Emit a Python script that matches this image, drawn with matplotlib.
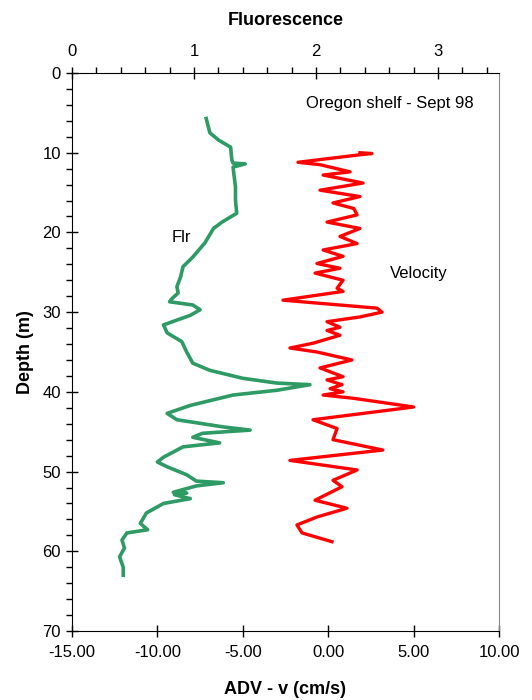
import matplotlib
matplotlib.use("Agg")
import matplotlib.pyplot as plt
from matplotlib.ticker import MultipleLocator

plt.rcParams['font.family'] = ['Liberation Sans', 'DejaVu Sans']

# Fluorescence profile (top axis)
flr_depth = [5.7, 7.5, 8.4, 9.3, 10.9, 11.3, 11.4, 11.8, 14.3, 15.9, 17.6, 18.7, 19.5,
             21.3, 23.1, 24.3, 25.6, 26.8, 27.6, 28.3, 28.7, 29.1, 29.7, 30.4, 31.6,
             32.6, 33.7, 35.0, 36.4, 37.3, 38.3, 38.9, 39.1, 39.8, 40.4, 41.7, 42.7,
             43.5, 44.4, 44.8, 45.2, 45.7, 46.4, 46.9, 48.2, 48.8, 49.4, 50.4, 51.2,
             51.4, 51.8, 52.6, 52.7, 52.9, 53.4, 54.0, 55.2, 56.5, 57.3, 57.7, 58.6,
             59.6, 60.7, 62.0, 63.0]
flr_value = [1.10, 1.13, 1.20, 1.30, 1.31, 1.32, 1.42, 1.32, 1.34, 1.34, 1.35, 1.23, 1.16,
             1.09, 0.99, 0.91, 0.89, 0.86, 0.87, 0.82, 0.80, 0.99, 1.05, 0.97, 0.75,
             0.78, 0.90, 0.94, 0.99, 1.13, 1.40, 1.68, 1.95, 1.68, 1.32, 0.97, 0.78,
             0.86, 1.24, 1.46, 1.07, 0.99, 1.21, 0.91, 0.75, 0.70, 0.78, 0.94, 1.02,
             1.24, 1.02, 0.83, 0.94, 0.84, 0.97, 0.75, 0.61, 0.56, 0.62, 0.45, 0.41,
             0.43, 0.39, 0.42, 0.42]

# ADV velocity profile (bottom axis)
vel_depth = [10.0, 10.1, 10.3, 11.2, 11.5, 12.4, 12.8, 13.8, 14.7, 15.5, 16.3, 17.0, 17.8,
             18.7, 19.5, 20.5, 21.4, 22.2, 23.0, 23.9, 24.5, 25.1, 26.0, 27.0, 27.4,
             28.5, 29.5, 30.0, 30.6, 31.2, 31.9, 32.3, 32.9, 33.9, 34.5, 35.0, 36.0,
             37.0, 38.1, 38.5, 39.1, 39.6, 40.0, 40.4, 40.8, 41.9, 43.5, 44.6, 46.0,
             47.3, 48.6, 49.8, 51.1, 51.9, 53.6, 54.6, 55.7, 56.7, 57.7, 58.8]
vel_value = [1.86, 2.56, 1.69, -1.77, -0.48, 1.28, -0.30, 2.04, -0.48, 1.86, 0.28, 1.50, 1.69,
             -0.07, 1.86, 0.69, 1.69, -0.30, 0.87, -0.66, 0.69, -0.77, 0.87, 0.52, 0.87,
             -2.65, 2.86, 3.15, 1.86, -0.07, 0.69, -0.07, 0.69, -0.89, -2.24, -0.66, 1.39,
             -0.48, 0.87, -0.07, 0.81, 0.11, 0.87, -0.30, 1.45, 5.00, -0.89, 0.52, 0.28,
             3.20, -2.24, 1.69, 0.28, 0.81, -0.77, 1.10, -0.66, -1.83, -1.53, 0.22]

GREEN = '#2E9A64'
RED = '#FF0000'

fig = plt.figure(figsize=(5.32, 7.0), dpi=100)
ax = fig.add_axes([0.1353, 0.0986, 0.8027, 0.7971])

ax.plot(vel_value, vel_depth, color=RED, lw=2.4, solid_joinstyle='round')
ax.set_xlim(-15, 10)
ax.set_ylim(70, 0)
ax.xaxis.set_major_locator(MultipleLocator(5))
ax.xaxis.set_major_formatter(plt.FuncFormatter(lambda v, p: f'{v:.2f}'))
ax.yaxis.set_major_locator(MultipleLocator(10))
ax.yaxis.set_minor_locator(MultipleLocator(2))
ax.tick_params(axis='x', which='major', direction='inout', length=8, width=1, labelsize=12, pad=6)
ax.tick_params(axis='y', which='major', direction='inout', length=8, width=1, labelsize=12, pad=4)
ax.tick_params(axis='y', which='minor', direction='out', length=4, width=1)
ax.set_xlabel('ADV - v (cm/s)', fontsize=13, fontweight='bold', labelpad=15)
ax.set_ylabel('Depth (m)', fontsize=13, fontweight='bold', labelpad=6)
ax.spines['right'].set_color('#888888')
ax.spines['top'].set_visible(False)

ax2 = ax.twiny()
ax2.plot(flr_value, flr_depth, color=GREEN, lw=2.6, solid_joinstyle='round')
ax2.set_xlim(0, 3.5)
ax2.xaxis.set_major_locator(MultipleLocator(1))
ax2.xaxis.set_minor_locator(MultipleLocator(0.2))
ax2.tick_params(axis='x', which='major', direction='inout', length=8, width=1, labelsize=12, pad=6)
ax2.tick_params(axis='x', which='minor', direction='out', length=4, width=1)
ax2.set_xlabel('Fluorescence', fontsize=13, fontweight='bold', labelpad=14)
ax2.spines['right'].set_visible(False)
ax2.spines['bottom'].set_visible(False)
ax2.spines['left'].set_visible(False)

ax.text(-8.6, 20.6, 'Flr', fontsize=12, ha='center', va='center')
ax.text(5.3, 25.2, 'Velocity', fontsize=12, ha='center', va='center')
ax.text(3.6, 3.8, 'Oregon shelf - Sept 98', fontsize=12, ha='center', va='center')

fig.savefig('out.png', dpi=100)
